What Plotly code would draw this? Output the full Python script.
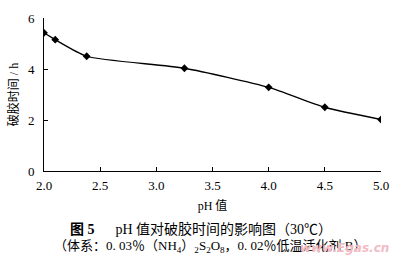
import plotly.graph_objects as go

ph = [2.0, 2.1, 2.38, 3.25, 4.0, 4.5, 5.0]
time_h = [5.42, 5.15, 4.5, 4.03, 3.28, 2.5, 2.02]
x_ticks = [2.0, 2.5, 3.0, 3.5, 4.0, 4.5, 5.0]
x_tick_text = ["2.0", "2.5", "3.0", "3.5", "4.0", "4.5", "5.0"]
y_ticks = [0, 2, 4, 6]

serif = "Liberation Serif, Noto Sans CJK SC"

fig = go.Figure()
fig.add_trace(go.Scatter(
    x=ph, y=time_h, mode="lines+markers",
    line=dict(color="black", width=1.3, shape="spline", smoothing=0.6),
    marker=dict(symbol="diamond", size=6, color="black"),
    showlegend=False,
))

fig.update_layout(
    width=400, height=261,
    margin=dict(l=44, r=13, t=11, b=90),
    paper_bgcolor="white", plot_bgcolor="white",
    font=dict(family=serif, color="black", size=12),
    xaxis=dict(
        range=[2.0, 5.0], tickvals=x_ticks, ticktext=x_tick_text,
        showgrid=False, zeroline=False, showline=True, linecolor="black", linewidth=1,
        ticks="inside", ticklen=4, tickcolor="black",
        tickfont=dict(family=serif, size=13), ticklabelstandoff=2,
        title=dict(text="pH 值", font=dict(family=serif, size=12), standoff=10),
    ),
    yaxis=dict(
        range=[0, 6], tickvals=y_ticks,
        showgrid=False, zeroline=False, showline=True, linecolor="black", linewidth=1,
        ticks="inside", ticklen=4, tickcolor="black",
        tickfont=dict(family=serif, size=13), ticklabelstandoff=6,
        title=dict(text="破胶时间 / h", font=dict(family=serif, size=12), standoff=6),
    ),
)

fig.add_annotation(
    text="<b>图 5</b>　  pH 值对破胶时间的影响图（30℃）",
    xref="paper", yref="paper", x=0.07, y=-0.38, xanchor="left", yanchor="middle",
    showarrow=False, font=dict(family=serif, size=14, color="black"),
)
fig.add_annotation(
    text="（体系：0. 03％（NH<sub>4</sub>）<sub>2</sub>S<sub>2</sub>O<sub>8</sub>，0. 02％低温活化剂 B）",
    xref="paper", yref="paper", x=0.025, y=-0.495, xanchor="left", yanchor="middle",
    showarrow=False, font=dict(family=serif, size=13, color="black"),
)
fig.add_annotation(
    text="<i><b>www.Egas.cn</b></i>",
    xref="paper", yref="paper", x=1.03, y=-0.5, xanchor="right", yanchor="middle",
    showarrow=False, font=dict(family="DejaVu Sans", size=12, color="#f2bcc4"),
)

fig.write_html("out.html")
